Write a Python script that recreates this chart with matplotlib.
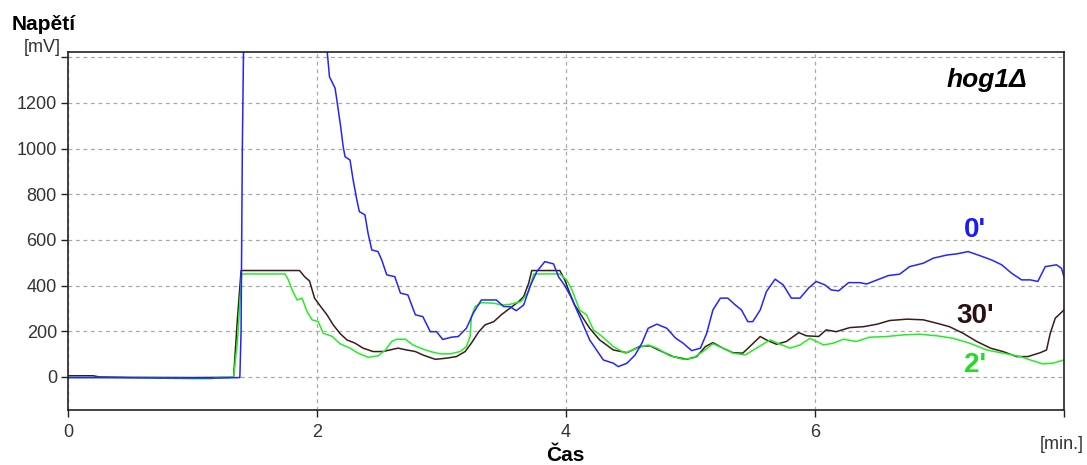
import matplotlib
matplotlib.use("Agg")
import matplotlib.pyplot as plt

plt.rcParams['font.family'] = ['Liberation Sans', 'DejaVu Sans']

# (time [min], voltage [mV])
curve_0 = [(0, -3), (0.3, -3), (0.76, -5), (1.2, -5), (1.38, -3), (1.39, 200), (1.40, 1000),
           (1.41, 1450), (1.45, 1600), (2.05, 1600), (2.083, 1418), (2.10, 1315), (2.145, 1265),
           (2.163, 1199), (2.19, 1096), (2.21, 1009), (2.225, 965), (2.265, 950), (2.29, 863),
           (2.32, 775), (2.34, 724), (2.385, 710), (2.41, 629), (2.44, 556), (2.49, 549),
           (2.52, 512), (2.56, 447), (2.625, 439), (2.67, 367), (2.73, 359), (2.79, 272),
           (2.85, 264), (2.91, 198), (2.96, 198), (3.01, 164), (3.08, 174), (3.135, 177),
           (3.20, 213), (3.255, 279), (3.32, 337), (3.44, 337), (3.50, 308), (3.55, 308),
           (3.60, 290), (3.66, 315), (3.71, 395), (3.765, 461), (3.83, 505), (3.90, 495),
           (3.94, 439), (3.99, 400), (4.04, 350), (4.11, 264), (4.19, 162), (4.30, 74),
           (4.38, 60), (4.42, 45), (4.49, 60), (4.555, 96), (4.61, 148), (4.66, 213),
           (4.73, 231), (4.81, 213), (4.88, 170), (4.94, 148), (5.01, 115), (5.08, 126),
           (5.13, 191), (5.18, 293), (5.24, 345), (5.30, 345), (5.36, 315), (5.41, 293),
           (5.46, 242), (5.50, 242), (5.56, 293), (5.61, 374), (5.68, 428), (5.745, 403),
           (5.81, 345), (5.88, 345), (5.95, 390), (6.01, 418), (6.08, 403), (6.13, 381),
           (6.19, 377), (6.27, 413), (6.36, 413), (6.415, 407), (6.50, 425), (6.59, 444),
           (6.68, 450), (6.76, 483), (6.87, 498), (6.95, 520), (7.06, 534), (7.14, 539),
           (7.23, 549), (7.33, 530), (7.42, 512), (7.50, 491), (7.58, 454), (7.66, 425),
           (7.73, 425), (7.79, 418), (7.85, 483), (7.94, 491), (7.98, 476), (8.0, 439)]

curve_30 = [(0, 5), (0.2, 5), (0.25, 0), (0.5, -2), (1.0, -3), (1.3, -2), (1.33, 0), (1.36, 250),
            (1.39, 466), (1.86, 466), (1.90, 439), (1.94, 420), (1.98, 345), (2.02, 315),
            (2.08, 272), (2.13, 228), (2.185, 190), (2.24, 162), (2.305, 148), (2.37, 126),
            (2.45, 111), (2.53, 111), (2.585, 118), (2.65, 126), (2.72, 118), (2.79, 111),
            (2.85, 96), (2.95, 77), (3.04, 82), (3.12, 89), (3.19, 111), (3.24, 148),
            (3.30, 198), (3.35, 228), (3.42, 242), (3.48, 272), (3.55, 301), (3.62, 330),
            (3.66, 352), (3.70, 410), (3.725, 466), (3.95, 466), (3.99, 425), (4.03, 367),
            (4.07, 315), (4.13, 264), (4.19, 213), (4.27, 162), (4.38, 118), (4.49, 106),
            (4.59, 133), (4.675, 136), (4.755, 115), (4.86, 89), (4.97, 77), (5.05, 89),
            (5.12, 133), (5.18, 150), (5.26, 126), (5.34, 106), (5.42, 104), (5.49, 140),
            (5.56, 177), (5.61, 162), (5.69, 143), (5.77, 155), (5.87, 194), (5.93, 180),
            (6.03, 177), (6.09, 206), (6.17, 198), (6.28, 216), (6.39, 220), (6.50, 231),
            (6.60, 247), (6.74, 253), (6.87, 250), (6.98, 235), (7.08, 220), (7.19, 191),
            (7.30, 155), (7.41, 126), (7.51, 111), (7.62, 89), (7.71, 89), (7.81, 106),
            (7.86, 118), (7.89, 191), (7.93, 257), (8.0, 293)]

curve_2 = [(0, -3), (0.5, -3), (1.0, -8), (1.15, -8), (1.2, -3), (1.33, 0), (1.36, 150),
           (1.395, 451), (1.743, 451), (1.77, 425), (1.80, 381), (1.84, 337), (1.88, 345),
           (1.92, 286), (1.96, 250), (2.01, 242), (2.05, 191), (2.12, 178), (2.185, 145),
           (2.265, 126), (2.33, 104), (2.41, 86), (2.49, 92), (2.55, 118), (2.60, 155),
           (2.64, 165), (2.71, 165), (2.77, 140), (2.83, 126), (2.91, 111), (2.99, 101),
           (3.07, 101), (3.15, 111), (3.20, 133), (3.23, 177), (3.24, 264), (3.27, 308),
           (3.32, 325), (3.42, 323), (3.48, 315), (3.55, 318), (3.64, 330), (3.70, 374),
           (3.74, 451), (3.95, 451), (4.005, 425), (4.045, 385), (4.11, 293), (4.165, 272),
           (4.22, 206), (4.29, 177), (4.38, 133), (4.475, 104), (4.57, 126), (4.66, 140),
           (4.73, 126), (4.835, 92), (4.94, 77), (5.02, 82), (5.10, 111), (5.18, 145),
           (5.26, 126), (5.34, 104), (5.44, 96), (5.53, 126), (5.64, 162), (5.72, 143),
           (5.80, 126), (5.88, 140), (5.96, 169), (6.07, 140), (6.15, 148), (6.23, 165),
           (6.33, 155), (6.44, 174), (6.58, 177), (6.71, 184), (6.84, 187), (6.98, 180),
           (7.11, 169), (7.24, 148), (7.38, 118), (7.51, 104), (7.65, 89), (7.73, 74),
           (7.83, 57), (7.91, 60), (8.0, 74)]

series = [("30'", curve_30, "#3a1c1c", "#2a1010", 267),
          ("2'", curve_2, "#22ee22", "#22dd22", 53),
          ("0'", curve_0, "#2424ff", "#1a1aff", 644)]

x_ticks = [0, 2, 4, 6, 8]
x_tick_labels = ["0", "2", "4", "6", ""]
y_ticks = [0, 200, 400, 600, 800, 1000, 1200, 1400]
y_tick_labels = ["0", "200", "400", "600", "800", "1000", "1200", ""]

fig = plt.figure(figsize=(10.87, 4.65), dpi=100)
ax = fig.add_axes([0.0626, 0.1183, 0.9162, 0.7692])

for name, pts, color, tcolor, ly in series:
    t, v = zip(*pts)
    ax.plot(t, v, color=color, lw=1.1)
    ax.text(7.285, ly, name, color=tcolor, fontsize=20, fontweight='bold',
            ha='center', va='center')

ax.set_xlim(0, 8)
ax.set_ylim(-145, 1422)
ax.set_xticks(x_ticks)
ax.set_xticklabels(x_tick_labels)
ax.set_yticks(y_ticks)
ax.set_yticklabels(y_tick_labels)
ax.tick_params(direction='out', length=5, width=1, labelsize=13,
               labelcolor='#333333', color='#222222', pad=3)
ax.tick_params(axis='x', pad=5)
ax.grid(True, color='#a8a8a8', linestyle=(0, (3, 3)), lw=0.9)
for side in ['left', 'bottom', 'top', 'right']:
    ax.spines[side].set_linewidth(1.2)
    ax.spines[side].set_color('#222222')

ax.text(0.923, 0.922, "hog1Δ", transform=ax.transAxes, fontsize=19,
        fontweight='bold', fontstyle='italic', ha='center', va='center')

fig.text(12 / 1087, 1 - 30 / 465, "Napětí", fontsize=15, fontweight='bold', ha='left', va='baseline')
fig.text(61 / 1087, 1 - 48 / 465, "[mV]", fontsize=13, color='#333333', ha='right', va='center')
fig.text(565 / 1087, 1 - 455 / 465, "Čas", fontsize=15, fontweight='bold', ha='center', va='center')
fig.text(1084 / 1087, 1 - 444 / 465, "[min.]", fontsize=13, color='#333333', ha='right', va='center')

fig.savefig("out.png", dpi=100)
